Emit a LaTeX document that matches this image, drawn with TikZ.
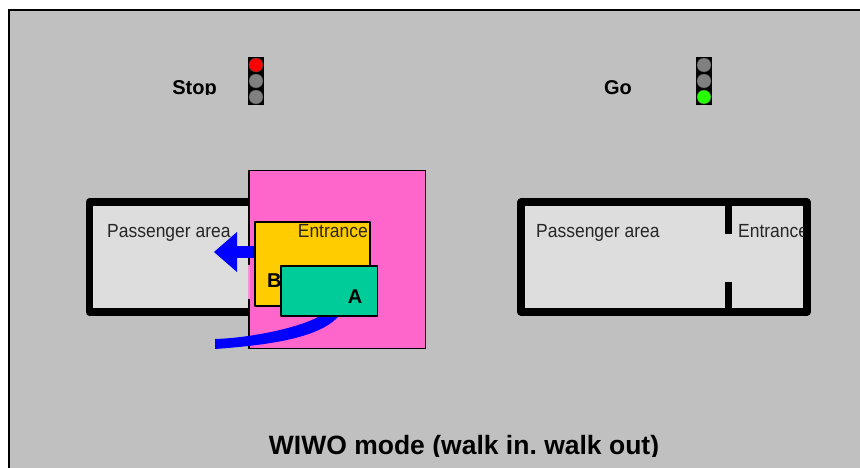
\documentclass[tikz,border=0pt]{standalone}
\usepackage{fontspec}
\setmainfont{Liberation Sans}
\frenchspacing
\tikzset{
  wall/.style={line width=7.5pt,line join=round},
  plate/.style={draw=black,line width=1.9pt,line join=round},
  lamp/.style={circle,inner sep=0pt,minimum size=14pt,draw=black!70,line width=.4pt},
  arealabel/.style={font=\fontsize{19}{19}\selectfont,text=black!85,inner sep=0pt,xscale=.92,transform shape},
  boldlabel/.style={font=\fontsize{20}{20}\selectfont\bfseries,inner sep=0pt},
}
\definecolor{hallgray}{RGB}{192,192,192}
\definecolor{roomgray}{RGB}{221,221,221}
\definecolor{doorpink}{RGB}{255,102,204}
\definecolor{carbyellow}{RGB}{255,204,0}
\definecolor{caragreen}{RGB}{0,204,153}
\begin{document}
\begin{tikzpicture}[x=1pt,y=-1pt]
  \useasboundingbox (0,0) rectangle (860,468);
  \fill[white] (0,0) rectangle (860,468);
  \fill[hallgray] (9,10) rectangle (860,468);
  \draw[line width=1.8pt] (9,468)--(9,10)--(860,10);
  % signals
  \begin{scope}
    \clip (150,70) rectangle (240,95);
    \node[boldlabel,anchor=base] (stop) at (194.5,95) {Stop};
  \end{scope}
  \node[boldlabel,anchor=base] (go) at (618,95) {Go};
  \fill[black] (248,57) rectangle (264,105);
  \node[lamp,fill=red] (stopa) at (256,65) {};
  \node[lamp,fill=gray] (stopb) at (256,81) {};
  \node[lamp,fill=gray] (stopc) at (256,97) {};
  \fill[black] (696,57) rectangle (712,105);
  \node[lamp,fill=gray] (goa) at (704,65) {};
  \node[lamp,fill=gray] (gob) at (704,81) {};
  \node[lamp,fill=green!85!yellow] (goc) at (704,97) {};
  % left platform
  \draw[wall,fill=roomgray] (89.5,202) rectangle (260,312);
  \node[arealabel,anchor=base west] (areal) at (107,237) {Passenger area};
  \draw[plate,fill=doorpink] (249,170.5) rectangle (425.5,348.5);
  \draw[doorpink!60!roomgray,line width=2pt] (249,265)--(249,299);
  \draw[plate,fill=carbyellow] (255,222) rectangle (370,306);
  \node[arealabel,anchor=base east] (entl) at (368,237) {Entrance};
  \node[boldlabel,anchor=base west] (carb) at (267,287) {B};
  \draw[blue,line width=12pt] (254,252)--(236,252);
  \fill[blue] (214,252)--(237,232)--(237,272)--cycle;
  \draw[plate,fill=caragreen] (281,266) rectangle (377.5,316);
  \node[boldlabel,anchor=base] (cara) at (355,303) {A};
  \fill[blue] (215,339) .. controls (250,338) and (298,328) .. (318,317)
    -- (338,317) .. controls (318,338) and (270,345) .. (215,349) -- cycle;
  % right platform
  \draw[wall,fill=roomgray] (521,202) rectangle (807,312);
  \draw[line width=7pt] (728.5,203)--(728.5,234);
  \draw[line width=7pt] (728.5,282)--(728.5,312);
  \node[arealabel,anchor=base west] (arear) at (536,237) {Passenger area};
  \begin{scope}
    \clip (730,215) rectangle (803,245);
    \node[arealabel,anchor=base west] (entr) at (738,237) {Entrance};
  \end{scope}
  % caption
  \begin{scope}
    \clip (200,425) rectangle (720,456);
    \node[font=\fontsize{26.5}{26.5}\selectfont\bfseries,inner sep=0pt,anchor=base] (caption) at (464,454) {WIWO mode (walk in. walk out)};
  \end{scope}
\end{tikzpicture}
\end{document}
